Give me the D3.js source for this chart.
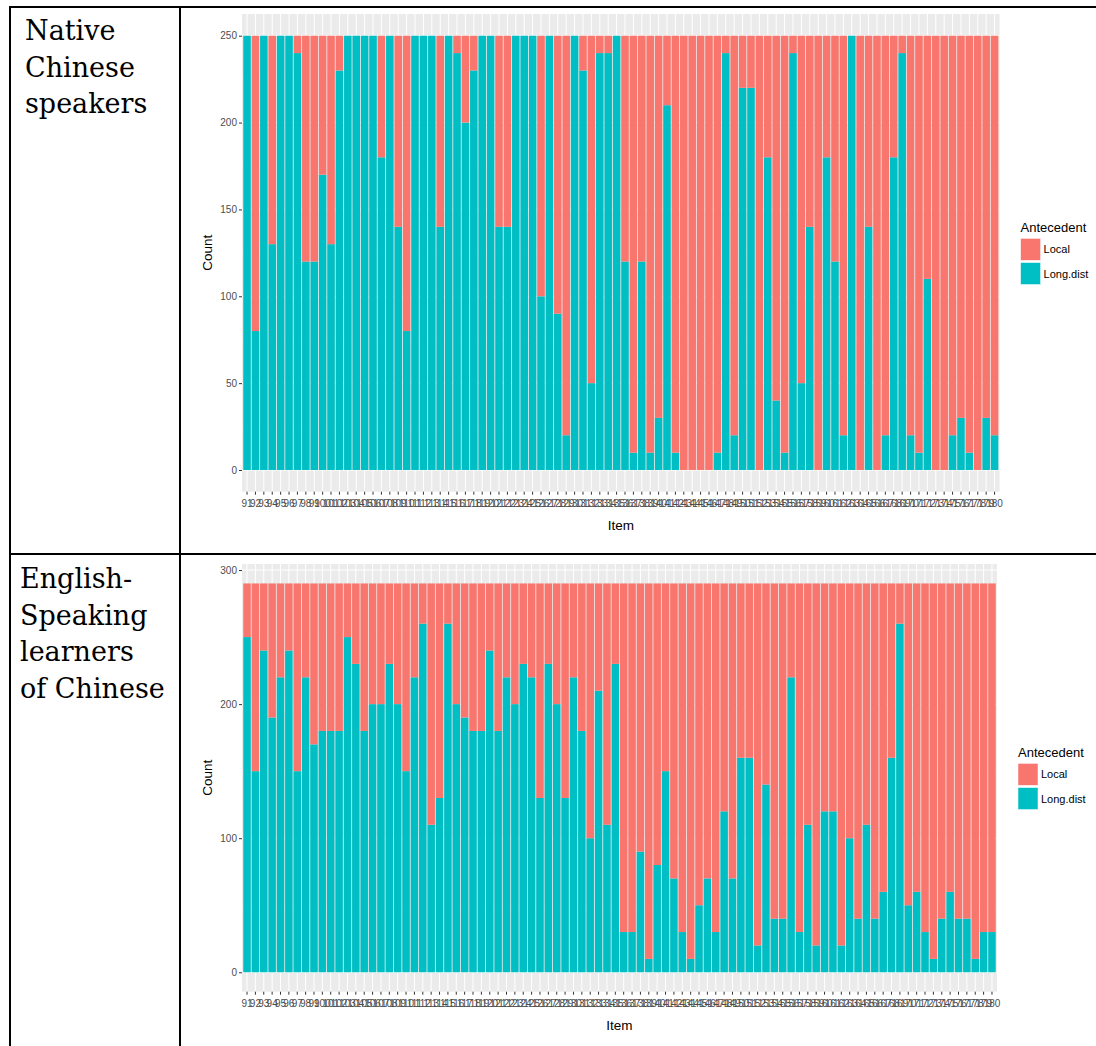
<!DOCTYPE html>
<html>
<head>
<meta charset="utf-8">
<script src="https://cdnjs.cloudflare.com/ajax/libs/d3/7.8.5/d3.min.js"></script>
<style>
  body { margin: 0; background: #fff; }
  svg text { font-family: "Liberation Sans", Arial, sans-serif; }
  .cell-label { font-family: "DejaVu Serif", serif; font-size: 27px; fill: #000; }
  .tick text { fill: #4D4D4D; font-size: 10px; }
  .tick line { stroke: #333; }
</style>
</head>
<body>
<svg id="chart" width="1096" height="1046"></svg>
<script>
// items on the x axis (tick labels)
const items = ['91','92','93','94','95','96','97','98','99','100','101','102','103','104','105','106','107','108','109','110',
  '111','112','113','114','115','116','117','118','119','120','121','122','123','124','125','126','127','128','129','130',
  '131','132','133','134','135','136','137','138','139','140','141','142','143','144','145','146','147','148','149','150',
  '151','152','153','154','155','156','157','158','159','160','161','162','163','164','165','166','167','168','169','170',
  '171','172','173','174','175','176','177','178','179','180'];

const keys = ['Long.dist', 'Local'];

// Native Chinese speakers
const nativeLong = [250,80,250,130,250,250,240,120,120,170,130,230,250,250,250,250,180,250,140,80,250,250,250,140,250,240,200,
  230,250,250,140,140,250,250,250,100,250,90,20,250,230,50,240,240,250,120,10,120,10,30,210,10,0,0,0,0,10,240,20,220,
  220,0,180,40,10,240,50,140,0,180,120,20,250,0,140,0,20,180,240,20,10,110,0,0,20,30,10,0,30,20];
const nativeLocal = [0,170,0,120,0,0,10,130,130,80,120,20,0,0,0,0,70,0,110,170,0,0,0,110,0,10,50,
  20,0,0,110,110,0,0,0,150,0,160,230,0,20,200,10,10,0,130,240,130,240,220,40,240,250,250,250,250,240,10,230,30,
  30,250,70,210,240,10,200,110,250,70,130,230,0,250,110,250,230,70,10,230,240,140,250,250,230,220,240,250,220,230];
const nativeTicks = [0, 50, 100, 150, 200, 250];

// English-speaking learners of Chinese
const learnerLong = [250,150,240,190,220,240,150,220,170,180,180,180,250,230,180,200,200,230,200,150,220,260,110,130,260,200,190,
  180,180,240,180,220,200,230,220,130,230,200,130,220,180,100,210,110,230,30,30,90,10,80,150,70,30,10,50,70,30,120,
  70,160,160,20,140,40,40,220,30,110,20,120,120,20,100,40,110,40,60,160,260,50,60,30,10,40,60,40,40,10,30,30];
const learnerLocal = [40,140,50,100,70,50,140,70,120,110,110,110,40,60,110,90,90,60,90,140,70,30,180,160,30,90,100,
  110,110,50,110,70,90,60,70,160,60,90,160,70,110,190,80,180,60,260,260,200,280,210,140,220,260,280,240,220,260,170,
  220,130,130,270,150,250,250,70,260,180,270,170,170,270,190,250,180,250,230,130,30,240,230,260,280,250,230,250,250,280,260,260];
const learnerTicks = [0, 100, 200, 300];

const colors = { 'Local': '#F8766D', 'Long.dist': '#00BFC4' };

const svg = d3.select('#chart');

//Table lines
const lines = [
  [10, 7, 1096, 7],
  [10, 554, 1096, 554],
  [10, 6, 10, 1046],
  [180, 6, 180, 1046]
];
svg.selectAll('line.table')
   .data(lines)
   .enter()
   .append('line')
   .attr('class', 'table')
   .attr('x1', d => d[0]).attr('y1', d => d[1])
   .attr('x2', d => d[2]).attr('y2', d => d[3])
   .attr('stroke', '#000')
   .attr('stroke-width', 2);

//Row labels
function rowLabel(x, y0, words) {
  svg.append('text')
     .attr('class', 'cell-label')
     .selectAll('tspan')
     .data(words)
     .enter()
     .append('tspan')
     .attr('x', x)
     .attr('y', (d, i) => y0 + i * 36.6)
     .text(d => d);
}
rowLabel(25, 40, ['Native', 'Chinese', 'speakers']);
rowLabel(20, 588, ['English-', 'Speaking', 'learners', 'of Chinese']);

//One stacked bar chart
function drawChart(cfg) {
  const rows = items.map((it, i) => ({ item: it, 'Long.dist': cfg.long[i], 'Local': cfg.local[i] }));
  const series = d3.stack().keys(keys)(rows);

  const xScale = d3.scaleBand()
                   .domain(items)
                   .range([cfg.left, cfg.right])
                   .paddingInner(0.1)
                   .paddingOuter(0.15);

  const yScale = d3.scaleLinear()
                   .domain(cfg.domain)
                   .range([cfg.bottom, cfg.top]);

  const g = svg.append('g');

  //panel background
  g.append('rect')
   .attr('x', cfg.left)
   .attr('y', cfg.top)
   .attr('width', cfg.right - cfg.left)
   .attr('height', cfg.bottom - cfg.top)
   .attr('fill', '#EBEBEB');

  //grid
  const step = cfg.yTicks[1] - cfg.yTicks[0];
  const minor = cfg.yTicks.map(t => t + step / 2).filter(t => t < cfg.domain[1]);
  g.selectAll('line.minor')
   .data(minor)
   .enter()
   .append('line')
   .attr('x1', cfg.left).attr('x2', cfg.right)
   .attr('y1', d => yScale(d)).attr('y2', d => yScale(d))
   .attr('stroke', '#fff').attr('stroke-width', 0.5);
  g.selectAll('line.major')
   .data(cfg.yTicks)
   .enter()
   .append('line')
   .attr('x1', cfg.left).attr('x2', cfg.right)
   .attr('y1', d => yScale(d)).attr('y2', d => yScale(d))
   .attr('stroke', '#fff').attr('stroke-width', 1);
  g.selectAll('line.vgrid')
   .data(items)
   .enter()
   .append('line')
   .attr('x1', d => xScale(d) + xScale.bandwidth() / 2)
   .attr('x2', d => xScale(d) + xScale.bandwidth() / 2)
   .attr('y1', cfg.top).attr('y2', cfg.bottom)
   .attr('stroke', '#fff').attr('stroke-width', 1);

  //bars
  g.selectAll('g.layer')
   .data(series)
   .enter()
   .append('g')
   .attr('fill', d => colors[d.key])
   .selectAll('rect')
   .data(d => d)
   .enter()
   .append('rect')
   .attr('x', d => xScale(d.data.item))
   .attr('width', xScale.bandwidth())
   .attr('y', d => yScale(d[1]))
   .attr('height', d => yScale(d[0]) - yScale(d[1]));

  //axes
  const xAxis = d3.axisBottom(xScale).tickSize(3).tickPadding(5);
  const yAxis = d3.axisLeft(yScale).tickValues(cfg.yTicks).tickSize(3).tickPadding(2);

  g.append('g')
   .attr('transform', `translate(0, ${cfg.bottom})`)
   .call(xAxis)
   .call(a => a.select('.domain').remove());

  g.append('g')
   .attr('transform', `translate(${cfg.left}, 0)`)
   .call(yAxis)
   .call(a => a.select('.domain').remove());

  //axis titles
  const mid = (cfg.top + cfg.bottom) / 2;
  g.append('text')
   .attr('transform', `translate(${cfg.left - 30}, ${mid}) rotate(-90)`)
   .attr('text-anchor', 'middle')
   .attr('font-size', '13.5px')
   .text('Count');

  g.append('text')
   .attr('x', (cfg.left + cfg.right) / 2)
   .attr('y', cfg.bottom + 38)
   .attr('text-anchor', 'middle')
   .attr('font-size', '13.5px')
   .text('Item');

  //legend
  const lx = cfg.right + 21;
  g.append('text')
   .attr('x', lx)
   .attr('y', mid - 21)
   .attr('font-size', '13px')
   .text('Antecedent');

  const legendKeys = ['Local', 'Long.dist'];
  legendKeys.forEach((k, i) => {
    const ky = mid - 14.5 + i * 24.2;
    g.append('rect')
     .attr('x', lx)
     .attr('y', ky)
     .attr('width', 20)
     .attr('height', 22)
     .attr('fill', colors[k])
     .attr('stroke', '#fff')
     .attr('stroke-width', 0.5);
    g.append('text')
     .attr('x', lx + 23)
     .attr('y', ky + 15)
     .attr('font-size', '11px')
     .text(k);
  });
}

drawChart({
  long: nativeLong, local: nativeLocal, yTicks: nativeTicks,
  domain: [-12.5, 262.5],
  left: 242, right: 999.6, top: 14, bottom: 491.7
});

drawChart({
  long: learnerLong, local: learnerLocal, yTicks: learnerTicks,
  domain: [-14.5, 304.5],
  left: 242, right: 997, top: 564, bottom: 991.7
});
</script>
</body>
</html>
